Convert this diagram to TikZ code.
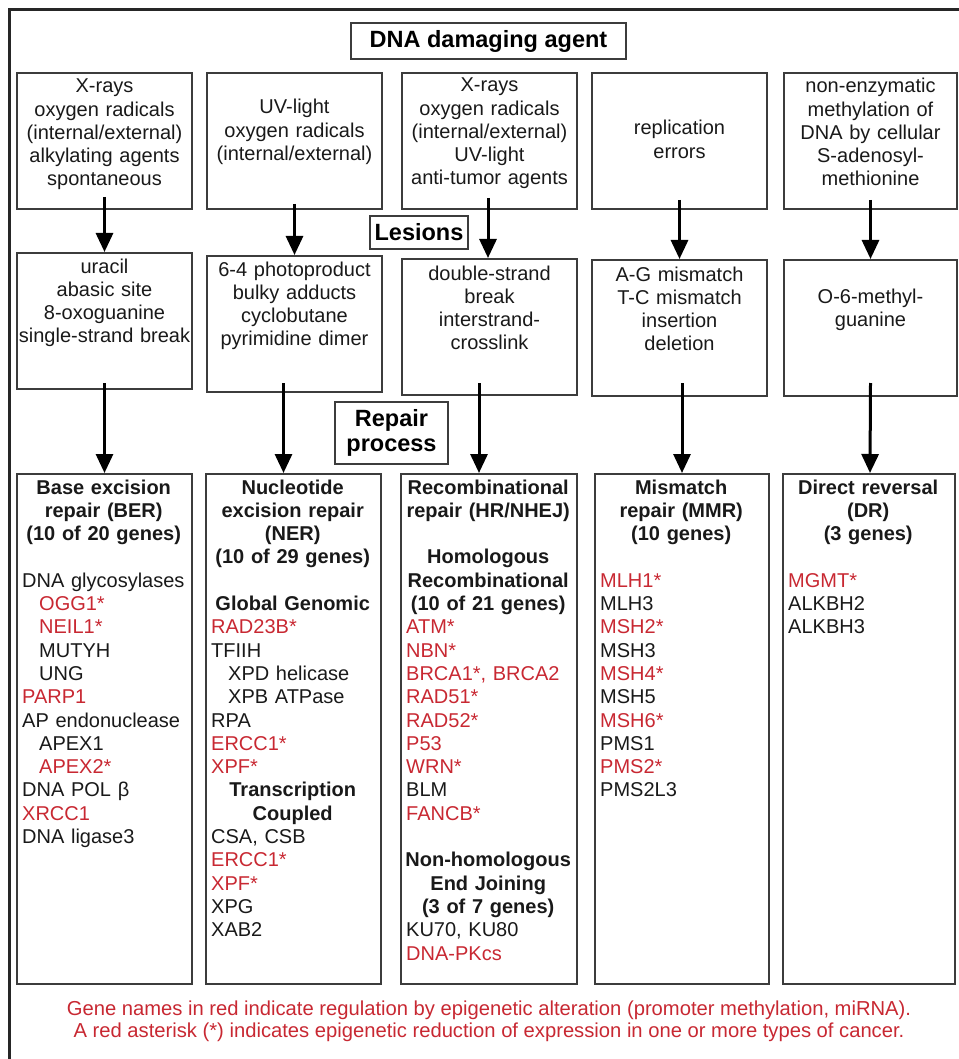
\documentclass[tikz,border=0pt]{standalone}
\usepackage{fontspec}
\setmainfont{Liberation Sans}
\usetikzlibrary{arrows.meta, positioning, calc}

\definecolor{genered}{RGB}{200,40,50}
\definecolor{boxgray}{RGB}{60,60,60}

% red gene names, centred bold headings, indented entries
\newcommand{\gred}[1]{\textcolor{genered}{#1}}
\newcommand{\hdline}[1]{\makebox[\linewidth]{\bfseries #1}}
\newcommand{\gind}{\hspace*{17pt}}

\begin{document}
\begin{tikzpicture}[
        x=1pt, y=-1pt,
        % Define styles for the different blocks
        frame/.style={draw=black!85, line width=3pt},
        label/.style={rectangle, draw=boxgray, line width=2pt, fill=white, inner sep=0pt, font=\fontsize{23.5}{25}\selectfont\bfseries},
        srcbox/.style={rectangle, draw=boxgray, line width=2pt, minimum width=175pt, minimum height=136pt, inner sep=0pt},
        repbox/.style={rectangle, draw=boxgray, line width=2pt, minimum width=175pt, minimum height=510pt, inner sep=0pt},
        ctext/.style={text width=175pt, align=center, anchor=base, inner sep=0pt, text=black!90, font=\fontsize{20}{23.2}\selectfont},
        ltext/.style={text width=163pt, align=left, anchor=base west, inner sep=0pt, text=black!90, font=\fontsize{20}{23.3}\selectfont},
        note/.style={align=center, anchor=base, inner sep=0pt, text=genered, font=\fontsize{20.2}{22}\selectfont},
        line/.style={draw, -{Triangle[length=19pt, width=17pt]}, line width=3pt, color=black}
    ]
    \useasboundingbox (0,0) rectangle (958,1059);

    % outer frame (right and bottom edges lie outside the picture)
    \draw[frame] (9,1065) -- (9,9.5) -- (965,9.5);

    % --- Nodes ---
    % Title
    \node[label, minimum width=275pt, minimum height=36pt] (agent) at (488.5,41) {DNA damaging agent};

    % Damaging agents
    \node[srcbox] (src1) at (104.5,141) {};
    \node[srcbox] (src2) at (294.5,141) {};
    \node[srcbox] (src3) at (489.5,141) {};
    \node[srcbox] (src4) at (679.5,141) {};
    \node[srcbox, minimum width=173pt] (src5) at (870.5,141) {};

    \node[ctext] (src1t) at ($(src1.north)+(0,21)$) {X-rays\\oxygen radicals\\(internal/external)\\alkylating agents\\spontaneous};
    \node[ctext] (src2t) at ($(src2.north)+(0,42)$) {UV-light\\oxygen radicals\\(internal/external)};
    \node[ctext] (src3t) at ($(src3.north)+(0,20)$) {X-rays\\oxygen radicals\\(internal/external)\\UV-light\\anti-tumor agents};
    \node[ctext] (src4t) at ($(src4.north)+(0,63)$) {replication\\errors};
    \node[ctext, text width=173pt] (src5t) at ($(src5.north)+(0,21)$) {non-enzymatic\\methylation of\\DNA by cellular\\S-adenosyl-\\methionine};

    % Lesions
    \node[label, minimum width=98pt, minimum height=33pt] (lesions) at (419,232.5) {Lesions};

    \node[srcbox] (les1) at (104.5,321) {};
    \node[srcbox] (les2) at (294.5,324) {};
    \node[srcbox] (les3) at (489.5,327) {};
    \node[srcbox] (les4) at (679.5,328) {};
    \node[srcbox, minimum width=173pt] (les5) at (870.5,328) {};

    \node[ctext] (les1t) at ($(les1.north)+(0,21)$) {uracil\\abasic site\\8-oxoguanine\\single-strand break};
    \node[ctext] (les2t) at ($(les2.north)+(0,21)$) {6-4 photoproduct\\bulky adducts\\cyclobutane\\pyrimidine dimer};
    \node[ctext] (les3t) at ($(les3.north)+(0,22)$) {double-strand\\break\\interstrand-\\crosslink};
    \node[ctext] (les4t) at ($(les4.north)+(0,22)$) {A-G mismatch\\T-C mismatch\\insertion\\deletion};
    \node[ctext, text width=173pt] (les5t) at ($(les5.north)+(0,44.5)$) {O-6-methyl-\\guanine};

    % Repair process
    \node[label, minimum width=113pt, minimum height=62pt, align=center] (repair) at (391.5,433) {Repair\\process};

    \node[repbox] (rep1) at (104.5,729) {};
    \node[repbox] (rep2) at (293.5,729) {};
    \node[repbox, minimum width=176pt] (rep3) at (489,729) {};
    \node[repbox, minimum width=174pt] (rep4) at (682,729) {};
    \node[repbox, minimum width=172pt] (rep5) at (869,729) {};

    \node[ltext] (rep1t) at ($(rep1.north west)+(6,21)$) {%
        \hdline{Base excision}\\
        \hdline{repair (BER)}\\
        \hdline{(10 of 20 genes)}\\
        ~\\
        DNA glycosylases\\
        \gind\gred{OGG1*}\\
        \gind\gred{NEIL1*}\\
        \gind MUTYH\\
        \gind UNG\\
        \gred{PARP1}\\
        AP endonuclease\\
        \gind APEX1\\
        \gind\gred{APEX2*}\\
        DNA POL β\\
        \gred{XRCC1}\\
        DNA ligase3};
    \node[ltext] (rep2t) at ($(rep2.north west)+(6,21)$) {%
        \hdline{Nucleotide}\\
        \hdline{excision repair}\\
        \hdline{(NER)}\\
        \hdline{(10 of 29 genes)}\\
        ~\\
        \hdline{Global Genomic}\\
        \gred{RAD23B*}\\
        TFIIH\\
        \gind XPD helicase\\
        \gind XPB ATPase\\
        RPA\\
        \gred{ERCC1*}\\
        \gred{XPF*}\\
        \hdline{Transcription}\\
        \hdline{Coupled}\\
        CSA, CSB\\
        \gred{ERCC1*}\\
        \gred{XPF*}\\
        XPG\\
        XAB2};
    \node[ltext, text width=164pt] (rep3t) at ($(rep3.north west)+(6,21)$) {%
        \hdline{Recombinational}\\
        \hdline{repair (HR/NHEJ)}\\
        ~\\
        \hdline{Homologous}\\
        \hdline{Recombinational}\\
        \hdline{(10 of 21 genes)}\\
        \gred{ATM*}\\
        \gred{NBN*}\\
        \gred{BRCA1*, BRCA2}\\
        \gred{RAD51*}\\
        \gred{RAD52*}\\
        \gred{P53}\\
        \gred{WRN*}\\
        BLM\\
        \gred{FANCB*}\\
        ~\\
        \hdline{Non-homologous}\\
        \hdline{End Joining}\\
        \hdline{(3 of 7 genes)}\\
        KU70, KU80\\
        \gred{DNA-PKcs}};
    \node[ltext, text width=162pt] (rep4t) at ($(rep4.north west)+(6,21)$) {%
        \hdline{Mismatch}\\
        \hdline{repair (MMR)}\\
        \hdline{(10 genes)}\\
        ~\\
        \gred{MLH1*}\\
        MLH3\\
        \gred{MSH2*}\\
        MSH3\\
        \gred{MSH4*}\\
        MSH5\\
        \gred{MSH6*}\\
        PMS1\\
        \gred{PMS2*}\\
        PMS2L3};
    \node[ltext, text width=160pt] (rep5t) at ($(rep5.north west)+(6,21)$) {%
        \hdline{Direct reversal}\\
        \hdline{(DR)}\\
        \hdline{(3 genes)}\\
        ~\\
        \gred{MGMT*}\\
        ALKBH2\\
        ALKBH3};

    % Legend (base anchor sits on the last line)
    \node[note] (legend) at (489,1037) {Gene names in red indicate regulation by epigenetic alteration (promoter methylation, miRNA).\\A red asterisk (*) indicates epigenetic reduction of expression in one or more types of cancer.};

    % --- Edges (Arrows) ---
    % agents to lesions
    \path[line] ([yshift=13pt]src1.south) -- (les1.north);
    \path[line] ([yshift=6pt]src2.south) -- (les2.north);
    \path[line] ([xshift=-1.5pt, yshift=12pt]src3.south) -- ([xshift=-1.5pt]les3.north);
    \path[line] ([yshift=10pt]src4.south) -- (les4.north);
    \path[line] ([yshift=10pt]src5.south) -- (les5.north);

    % lesions to repair pathways
    \path[line] ([yshift=7pt]les1.south) -- (rep1.north);
    \path[line] ([xshift=-11pt, yshift=10pt]les2.south) -- ([xshift=-10pt]rep2.north);
    \path[line] ([xshift=-10.5pt, yshift=13pt]les3.south) -- ([xshift=-10pt]rep3.north);
    \path[line] ([xshift=2.5pt, yshift=14pt]les4.south) -- (rep4.north);
    \path[line] ([yshift=14pt]les5.south) -- ([xshift=1pt]rep5.north);

\end{tikzpicture}
\end{document}
